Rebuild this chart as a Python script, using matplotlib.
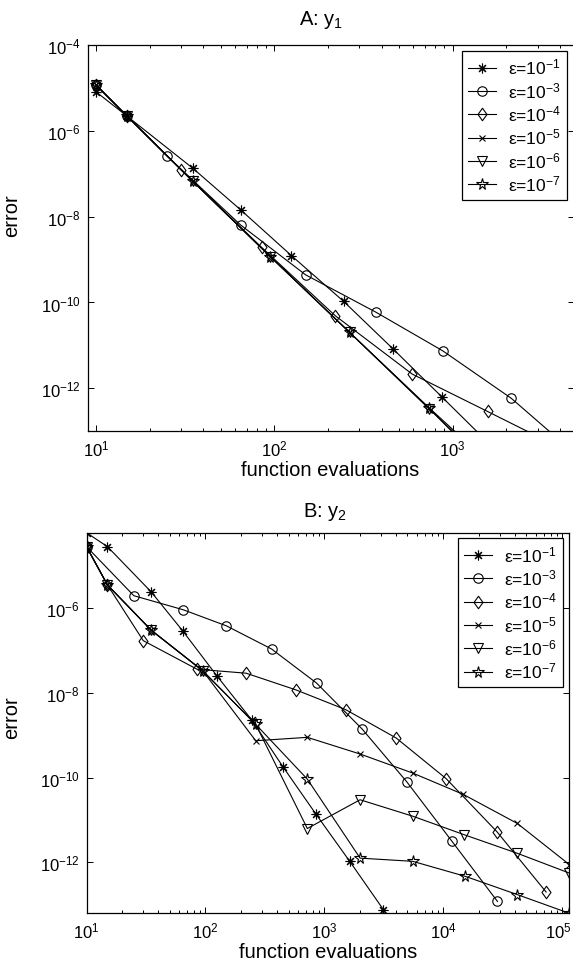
import matplotlib
matplotlib.use("Agg")
import matplotlib.pyplot as plt
import matplotlib.transforms as mtransforms
from matplotlib.ticker import LogLocator, NullFormatter, NullLocator, LogFormatterSciNotation
from matplotlib.path import Path

plt.rcParams['font.family'] = ['Liberation Sans', 'DejaVu Sans']
plt.rcParams['mathtext.fontset'] = 'custom'
plt.rcParams['mathtext.rm'] = 'Liberation Sans'
plt.rcParams['mathtext.it'] = 'Liberation Sans'
plt.rcParams['mathtext.default'] = 'regular'

# ---------------- data: panel A (y1) ----------------
a_x_e1 = [10, 15, 35, 65, 125, 245, 465, 875, 1650]
a_y_e1 = [8.1e-6, 2.16e-6, 1.33e-7, 1.42e-8, 1.23e-9, 1.06e-10, 8.2e-12, 6.2e-13, 4.6e-14]
a_x_e3 = [10, 15, 25, 65, 150, 370, 880, 2130, 4300]
a_y_e3 = [1.17e-5, 2.16e-6, 2.6e-7, 6.3e-9, 4.4e-10, 6.0e-11, 7.5e-12, 5.9e-13, 4.7e-14]
a_x_e4 = [10, 15, 30, 85, 220, 594, 1570, 4130]
a_y_e4 = [1.17e-5, 2.16e-6, 1.23e-7, 1.92e-9, 4.9e-11, 2.15e-12, 2.9e-13, 3.9e-14]
a_x_e5 = [10, 15, 35, 95, 265, 740, 1400]
a_y_e5 = [1.17e-5, 2.16e-6, 6.6e-8, 1.17e-9, 2.0e-11, 3.4e-13, 2.3e-14]
a_x_e6 = [10, 15, 35, 95, 265, 740, 1400]
a_y_e6 = [1.17e-5, 2.16e-6, 6.6e-8, 1.17e-9, 2.0e-11, 3.3e-13, 2.7e-14]
a_x_e7 = [10, 15, 35, 95, 265, 740, 1400]
a_y_e7 = [1.17e-5, 2.16e-6, 6.6e-8, 1.17e-9, 2.0e-11, 3.5e-13, 3.1e-14]

# ---------------- data: panel B (y2) ----------------
b_x_e1 = [10, 15, 35, 65, 125, 245, 450, 850, 1640, 3140]
b_y_e1 = [5.97e-5, 2.8e-5, 2.4e-6, 2.8e-7, 2.5e-8, 2.3e-9, 1.78e-10, 1.38e-11, 1.05e-12, 7.7e-14]
b_x_e3 = [10, 25, 65, 150, 360, 860, 2080, 4950, 11800, 28600]
b_y_e3 = [2.8e-5, 1.95e-6, 9.1e-7, 3.8e-7, 1.08e-7, 1.7e-8, 1.4e-9, 7.9e-11, 3.2e-12, 1.2e-13]
b_x_e4 = [10, 15, 30, 85, 220, 578, 1515, 4020, 10570, 28300, 73400]
b_y_e4 = [2.8e-5, 3.5e-6, 1.7e-7, 3.6e-8, 2.9e-8, 1.17e-8, 4.0e-9, 8.6e-10, 9.5e-11, 5.3e-12, 2.0e-13]
b_x_e5 = [10, 15, 35, 95, 265, 720, 2000, 5540, 14800, 42000, 115000]
b_y_e5 = [2.8e-5, 3.5e-6, 3.0e-7, 3.3e-8, 7.4e-10, 8.9e-10, 3.6e-10, 1.28e-10, 4.0e-11, 8.3e-12, 8.9e-13]
b_x_e6 = [10, 15, 35, 95, 265, 720, 2000, 5540, 15000, 42000, 115000]
b_y_e6 = [2.8e-5, 3.5e-6, 3.0e-7, 3.3e-8, 1.8e-9, 6.3e-12, 3.0e-11, 1.23e-11, 4.5e-12, 1.64e-12, 5.6e-13]
b_x_e7 = [10, 15, 35, 95, 265, 720, 2000, 5540, 15300, 42000, 115000]
b_y_e7 = [2.8e-5, 3.5e-6, 3.0e-7, 3.3e-8, 1.8e-9, 9.2e-11, 1.26e-12, 1.06e-12, 4.7e-13, 1.74e-13, 6.3e-14]

labels = [r'ε=10$^{-1}$', r'ε=10$^{-3}$', r'ε=10$^{-4}$',
          r'ε=10$^{-5}$', r'ε=10$^{-6}$', r'ε=10$^{-7}$']
y_ticks = [1e-12, 1e-10, 1e-8, 1e-6, 1e-4]

diamond = Path([(0, 1), (0.72, 0), (0, -1), (-0.72, 0), (0, 1)],
               [Path.MOVETO, Path.LINETO, Path.LINETO, Path.LINETO, Path.CLOSEPOLY])
styles = [
    dict(marker=(8, 2, 0), ms=7.0),
    dict(marker='o', ms=6.8),
    dict(marker=diamond, ms=9.0),
    dict(marker='x', ms=5.0),
    dict(marker='v', ms=7.5),
    dict(marker='*', ms=8.5),
]

W, H = 573, 962
fig = plt.figure(figsize=(W / 100, H / 100), dpi=100)


def make_axes(l, r, t, b):
    return fig.add_axes([l / W, 1 - b / H, (r - l) / W, (b - t) / H])


def style_axes(ax, l, t, b, ylab_center):
    ax.set_xscale('log')
    ax.set_yscale('log')
    ax.xaxis.set_major_locator(LogLocator(base=10))
    ax.xaxis.set_minor_locator(LogLocator(base=10, subs=range(2, 10)))
    ax.xaxis.set_minor_formatter(NullFormatter())
    ax.set_yticks(y_ticks)
    ax.yaxis.set_major_formatter(LogFormatterSciNotation())
    ax.yaxis.set_minor_locator(NullLocator())
    ax.tick_params(which='both', direction='in', top=True, right=True,
                   labelsize=12, width=0.7, pad=5)
    ax.tick_params(which='major', length=4.5)
    ax.tick_params(which='minor', length=2.5)
    for s in ax.spines.values():
        s.set_linewidth(0.9)
    ax.set_xlabel('function evaluations', fontsize=14.5, labelpad=1)
    ax.set_ylabel('error', fontsize=14.5)
    ax.yaxis.set_label_coords((21 - l) / (ax.get_position().width * W),
                              (b - ylab_center) / (b - t))


def draw(ax, xs, ys):
    for x, y, st, lab in zip(xs, ys, styles, labels):
        ax.plot(x, y, color='black', lw=0.8, mfc='none', mec='black', mew=0.8,
                label=lab, **st)


def add_legend(ax, right, top):
    leg = ax.legend(loc='upper right', bbox_to_anchor=(right / W, 1 - top / H),
                    bbox_transform=fig.transFigure, fontsize=12.5, frameon=True,
                    fancybox=False, edgecolor='black', framealpha=1,
                    handlelength=1.6, handletextpad=0.7, labelspacing=0.2,
                    borderpad=0.35, borderaxespad=0)
    leg.get_frame().set_linewidth(0.9)


# Panel A
axA = make_axes(87.7, 573.5, 45.8, 432.3)
draw(axA, [a_x_e1, a_x_e3, a_x_e4, a_x_e5, a_x_e6, a_x_e7],
     [a_y_e1, a_y_e3, a_y_e4, a_y_e5, a_y_e6, a_y_e7])
style_axes(axA, 87.7, 45.8, 432.3, 216)
axA.set_xlim(9, 4765)
axA.set_ylim(1e-13, 1e-4)
add_legend(axA, 567.3, 51.7)
fig.text(321 / W, 1 - 20 / H, r'A: y$_1$', ha='center', va='center', fontsize=14.5)

# Panel B
axB = make_axes(86.5, 569.3, 533.7, 914.3)
bx = [b_x_e1, b_x_e3, b_x_e4, b_x_e5, b_x_e6, b_x_e7]
by = [b_y_e1, b_y_e3, b_y_e4, b_y_e5, b_y_e6, b_y_e7]
draw(axB, bx, by)
style_axes(axB, 86.5, 533.7, 914.3, 718)
axB.set_xlim(min(min(v) for v in bx), max(max(v) for v in bx))
axB.set_ylim(min(min(v) for v in by), max(max(v) for v in by))
add_legend(axB, 563.3, 539)
fig.text(325 / W, 1 - 512 / H, r'B: y$_2$', ha='center', va='center', fontsize=14.5)

# keep the rightmost x tick label of panel B inside the figure
fig.canvas.draw()
xmaxB = axB.get_xlim()[1]
for tick in axB.xaxis.get_major_ticks():
    if tick.label1.get_visible() and tick.get_loc() <= xmaxB * 1.0001:
        last = tick
last.label1.set_transform(last.label1.get_transform() +
                          mtransforms.ScaledTranslation(-4 / 100, 0, fig.dpi_scale_trans))

fig.savefig('out.png', dpi=100)
